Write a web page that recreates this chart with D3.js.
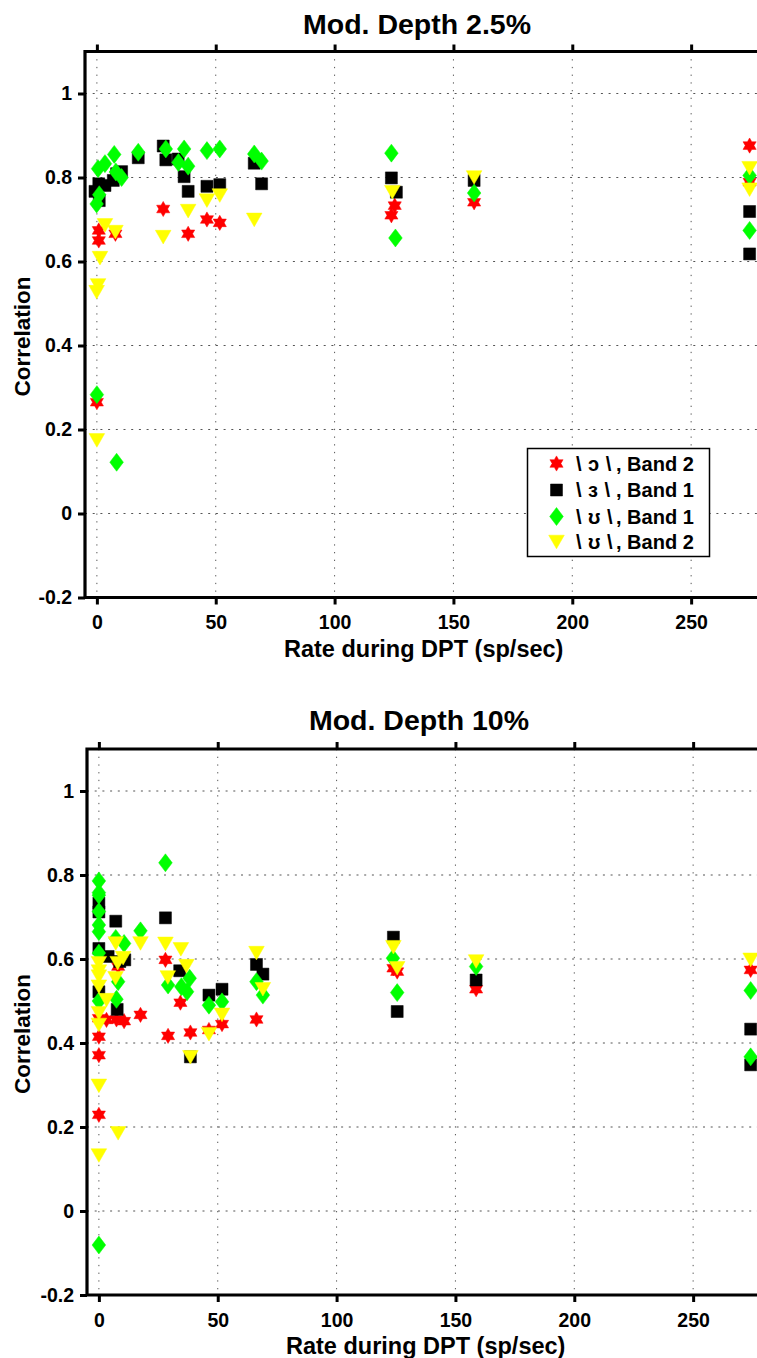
<!DOCTYPE html>
<html>
<head>
<meta charset="utf-8">
<script src="https://cdn.jsdelivr.net/npm/d3@7"></script>
<style>
  html, body { margin: 0; padding: 0; background: #fff; }
  svg { display: block; }
  text { font-family: "Liberation Sans", Arial, Helvetica, sans-serif; font-weight: bold; fill: #000; }
</style>
</head>
<body>
<svg id="chart" width="757" height="1358"></svg>
<script>
// ---- Series labels, colours and tick values ----
const seriesIpa = ["\\ɔ\\", "\\ɜ\\", "\\ʊ\\", "\\ʊ\\"];
const seriesBands = [", Band 2", ", Band 1", ", Band 1", ", Band 2"];
const seriesColors = ["#ff0000", "#000000", "#00ff00", "#ffff00"];
const seriesShapes = ["hexagram", "square", "diamond", "triangleDown"];
const xTicks = [0, 50, 100, 150, 200, 250];
const yTicks = [-0.2, 0, 0.2, 0.4, 0.6, 0.8, 1];
const yTickLabels = ["-0.2", "0", "0.2", "0.4", "0.6", "0.8", "1"];
const panelTitles = ["Mod. Depth 2.5%", "Mod. Depth 10%"];

// ---- Mod. Depth 2.5%: [rate during DPT (sp/sec), correlation] ----
const oBand2_25 = [
  [0.8, 0.674], [0.8, 0.650], [7.8, 0.666], [27.9, 0.725], [38.4, 0.666], [46.3, 0.700],
  [51.7, 0.692], [0, 0.265], [125.3, 0.733], [123.9, 0.710], [158.7, 0.741],
  [274.6, 0.876], [274.6, 0.789]
];
const erBand1_25 = [
  [0.8, 0.785], [3.4, 0.781], [-0.8, 0.767], [1, 0.745], [6.9, 0.793], [8.3, 0.809],
  [10.4, 0.814], [17.4, 0.847], [27.9, 0.875], [29, 0.842], [34.2, 0.844], [36.7, 0.802],
  [38.4, 0.767], [46.3, 0.779], [51.7, 0.783], [66.2, 0.834], [69.3, 0.785],
  [123.9, 0.799], [126, 0.765], [158.7, 0.793], [274.6, 0.719], [274.6, 0.618]
];
const uBand1_25 = [
  [0.5, 0.821], [3.4, 0.833], [7.3, 0.855], [8, 0.813], [10.4, 0.800], [17.4, 0.860],
  [29, 0.868], [36.7, 0.868], [34.3, 0.836], [38.4, 0.827], [46.3, 0.864], [51.7, 0.868],
  [66.2, 0.856], [69.3, 0.839], [1, 0.759], [-0.1, 0.737], [0, 0.283], [8.3, 0.122],
  [123.9, 0.858], [125.6, 0.656], [158.7, 0.763], [274.6, 0.805], [274.6, 0.674]
];
const uBand2_25 = [
  [3.4, 0.686], [7.8, 0.670], [1.3, 0.608], [27.9, 0.658], [38.4, 0.720], [46.3, 0.745],
  [51.7, 0.757], [66.2, 0.699], [0.5, 0.543], [-0.1, 0.527], [0, 0.174],
  [124.3, 0.765], [158.7, 0.800], [274.6, 0.822], [274.6, 0.771]
];

// ---- Mod. Depth 10%: [rate during DPT (sp/sec), correlation] ----
const oBand2_10 = [
  [28, 0.598], [8.1, 0.582], [0, 0.415], [0, 0.371], [0, 0.229], [3.2, 0.455],
  [7.4, 0.456], [10.6, 0.452], [17.5, 0.467], [29.1, 0.417], [34.3, 0.496], [38.5, 0.425],
  [46.3, 0.431], [51.8, 0.445], [66.3, 0.456], [0, 0.459], [123.9, 0.578], [125.5, 0.570],
  [158.7, 0.528], [274.2, 0.574]
];
const erBand1_10 = [
  [0, 0.733], [0, 0.712], [0, 0.625], [7.1, 0.690], [28, 0.698], [66.3, 0.587], [69, 0.564],
  [34, 0.572], [3.9, 0.606], [10.9, 0.598], [46.3, 0.514], [51.8, 0.528], [7.7, 0.480],
  [0, 0.522], [8.8, 0.594], [38.5, 0.367], [123.9, 0.652], [158.7, 0.550], [125.5, 0.475],
  [274.2, 0.433], [274.2, 0.348]
];
const uBand1_10 = [
  [0, 0.786], [0, 0.758], [0, 0.752], [0, 0.713], [0, 0.681], [0, 0.665], [28, 0.829],
  [17.5, 0.667], [7.1, 0.649], [10.6, 0.637], [0, 0.614], [8.1, 0.546], [7.4, 0.504],
  [29.1, 0.538], [34.7, 0.534], [38.2, 0.554], [37.1, 0.522], [46.3, 0.490], [51.8, 0.498],
  [66.3, 0.546], [69, 0.514], [0, -0.081], [0, 0.500], [123.7, 0.602], [125.5, 0.520],
  [158.7, 0.582], [274.2, 0.525], [274.2, 0.367]
];
const uBand2_10 = [
  [7.1, 0.637], [17.5, 0.637], [28, 0.636], [34.5, 0.623], [36.8, 0.583], [66.3, 0.614],
  [10.2, 0.602], [7.9, 0.590], [0, 0.590], [0, 0.570], [29, 0.556], [0, 0.558], [0, 0.534],
  [0, 0.471], [0, 0.443], [0, 0.298], [0, 0.132], [3.2, 0.502], [7, 0.554], [46.3, 0.421],
  [51.8, 0.467], [69, 0.528], [38.5, 0.366], [8.1, 0.185], [123.9, 0.628], [125.5, 0.578],
  [158.7, 0.594], [274.2, 0.598]
];

const panelSeries = [
  [oBand2_25, erBand1_25, uBand1_25, uBand2_25],
  [oBand2_10, erBand1_10, uBand1_10, uBand2_10]
];

// ---- Marker outlines ----
function markerPath(shape) {
  const p = d3.path();
  if (shape === "square") {
    const h = 6;
    p.rect(-h, -h, 2 * h, 2 * h);
  } else if (shape === "diamond") {
    const w = 6.8, h = 9;
    p.moveTo(0, -h); p.lineTo(w, 0); p.lineTo(0, h); p.lineTo(-w, 0); p.closePath();
  } else if (shape === "triangleDown") {
    const w = 7.8, h = 6.8;
    p.moveTo(-w, -h); p.lineTo(w, -h); p.lineTo(0, h); p.closePath();
  } else if (shape === "hexagram") {
    const ro = 7.6, ri = ro / Math.sqrt(3);
    for (let k = 0; k < 12; k++) {
      const a = -Math.PI / 2 + k * Math.PI / 6;
      const r = k % 2 === 0 ? ro : ri;
      const px = r * Math.cos(a), py = r * Math.sin(a);
      if (k === 0) p.moveTo(px, py); else p.lineTo(px, py);
    }
    p.closePath();
  }
  return p.toString();
}

const svg = d3.select("#chart");

const panels = [
  { top: 51.5, bottom: 597.5, left: 85, titleY: 34, titleX: 417 },
  { top: 749, bottom: 1295, left: 87, titleY: 730, titleX: 419 }
];

panels.forEach((pn, pi) => {
  const g = svg.append("g");
  const pxPerUnit = 2.377;
  const x = d3.scaleLinear().domain([-5, 280]).range([pn.left, pn.left + 285 * pxPerUnit]);
  const y = d3.scaleLinear().domain([-0.2, 1.1]).range([pn.bottom, pn.top]);
  const right = x(280);

  // dotted grid
  g.append("g").selectAll("line").data(xTicks).join("line")
    .attr("x1", d => x(d)).attr("x2", d => x(d))
    .attr("y1", y(1.1)).attr("y2", y(-0.2))
    .attr("stroke", "#555").attr("stroke-width", 1)
    .attr("stroke-dasharray", "1.3,6.4");
  g.append("g").selectAll("line").data(yTicks).join("line")
    .attr("y1", d => y(d)).attr("y2", d => y(d))
    .attr("x1", x(-5)).attr("x2", right)
    .attr("stroke", "#555").attr("stroke-width", 1)
    .attr("stroke-dasharray", "2,5.7");

  // axes with outward ticks
  const axB = g.append("g").attr("transform", `translate(0,${y(-0.2)})`)
    .call(d3.axisBottom(x).tickValues(xTicks).tickSize(7).tickPadding(11).tickFormat(d3.format("d")));
  const axT = g.append("g").attr("transform", `translate(0,${y(1.1)})`)
    .call(d3.axisTop(x).tickValues(xTicks).tickSize(7).tickFormat(""));
  const axL = g.append("g").attr("transform", `translate(${x(-5)},0)`)
    .call(d3.axisLeft(y).tickValues(yTicks).tickSize(7).tickPadding(6)
      .tickFormat((d, i) => yTickLabels[i]));
  [axB, axT, axL].forEach(a => {
    a.select(".domain").remove();
    a.selectAll(".tick line").attr("stroke", "#000").attr("stroke-width", 3);
    a.selectAll("text").attr("font-size", 19.5).attr("font-weight", "bold")
      .attr("font-family", '"Liberation Sans", Arial, sans-serif').attr("fill", "#000");
  });

  // axis frame (left, bottom, top)
  g.append("path")
    .attr("d", `M${right},${y(1.1)}H${x(-5)}V${y(-0.2)}H${right}`)
    .attr("fill", "none").attr("stroke", "#000").attr("stroke-width", 3.2)
    .attr("stroke-linejoin", "miter");

  // markers, plotted series by series
  panelSeries[pi].forEach((data, si) => {
    g.append("g").selectAll("path").data(data).join("path")
      .attr("d", markerPath(seriesShapes[si]))
      .attr("transform", d => `translate(${x(d[0])},${y(d[1])})`)
      .attr("fill", seriesColors[si])
      .attr("stroke", seriesColors[si]).attr("stroke-width", 0.5);
  });

  // title and axis labels
  g.append("text").attr("x", pn.titleX).attr("y", pn.titleY)
    .attr("text-anchor", "middle").attr("font-size", 28.5).text(panelTitles[pi]);
  g.append("text").attr("x", (x(-5) + right) / 2).attr("y", y(-0.2) + 59)
    .attr("text-anchor", "middle").attr("font-size", 23.5).text("Rate during DPT (sp/sec)");
  g.append("text")
    .attr("transform", `translate(${30},${(y(1.1) + y(-0.2)) / 2 + 12}) rotate(-90)`)
    .attr("text-anchor", "middle").attr("font-size", 22.5).text("Correlation");

  // legend (first panel only)
  if (pi === 0) {
    const lg = g.append("g");
    lg.append("rect").attr("x", 527.5).attr("y", 448.5).attr("width", 182).attr("height", 108)
      .attr("fill", "#fff").attr("stroke", "#000").attr("stroke-width", 1.5);
    const rowY = [463.5, 490, 516.5, 542];
    seriesIpa.forEach((ipa, si) => {
      lg.append("path").attr("d", markerPath(seriesShapes[si]))
        .attr("transform", `translate(556.5,${rowY[si]})`)
        .attr("fill", seriesColors[si]).attr("stroke", seriesColors[si]).attr("stroke-width", 0.5);
      lg.append("text").attr("x", 576).attr("y", rowY[si] + 7)
        .attr("font-weight", "normal")
        .attr("font-size", 20).attr("letter-spacing", "6.5").text(ipa);
      lg.append("text").attr("x", 616).attr("y", rowY[si] + 7)
        .attr("font-size", 20).text(seriesBands[si]);
    });
  }
});
</script>
</body>
</html>
